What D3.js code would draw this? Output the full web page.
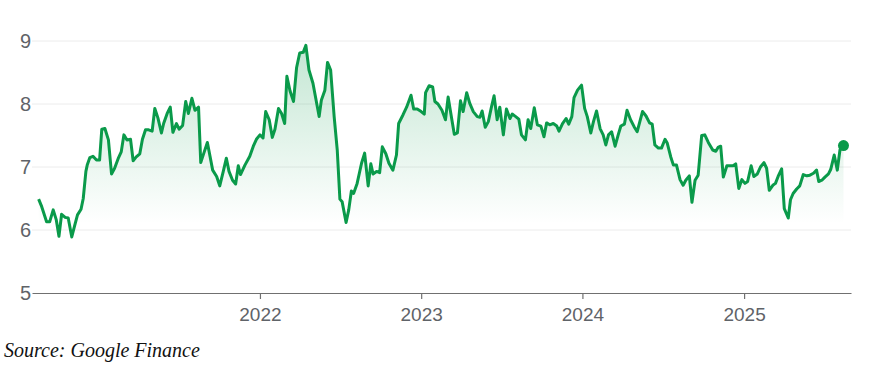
<!DOCTYPE html>
<html>
<head>
<meta charset="utf-8">
<script src="https://cdn.jsdelivr.net/npm/d3@7"></script>
<style>
  html, body { margin: 0; padding: 0; background: #fff; }
  svg { display: block; }
</style>
</head>
<body>
<svg id="chart" width="875" height="382"></svg>
<script>
// ---- Data (weekly closing prices) ----
const dates2020 = ["08-18","08-25","09-05","09-12","09-20","09-27","10-03","10-09","10-17","10-24","11-01","11-08","11-14","11-22","11-27","12-03","12-06","12-12","12-19","12-27"];
const prices2020 = [6.49,6.37,6.13,6.13,6.32,6.16,5.90,6.25,6.20,6.19,5.89,6.08,6.24,6.33,6.50,6.93,7.03,7.15,7.17,7.11];

const dates2021 = ["01-03","01-08","01-15","01-23","01-30","02-06","02-15","02-21","02-27","03-06","03-14","03-20","03-27","04-04","04-10","04-17","04-24","05-02","05-08","05-15","05-23","05-28","06-05","06-12","06-18","06-26","07-02","07-10","07-17","07-23","07-31","08-07","08-15","08-20","08-27","09-04","09-16","09-25","10-02","10-10","10-17","10-23","10-31","11-07","11-13","11-18","11-28","12-09","12-17","12-24"];
const prices2021 = [7.11,7.60,7.61,7.43,6.89,6.98,7.15,7.24,7.51,7.43,7.44,7.10,7.16,7.21,7.44,7.59,7.59,7.57,7.93,7.78,7.54,7.69,7.85,7.95,7.55,7.69,7.60,7.66,8.04,7.85,8.09,7.90,7.95,7.07,7.22,7.39,6.95,6.85,6.70,6.93,7.14,6.93,6.79,6.73,7.02,6.88,7.03,7.17,7.33,7.44];

const dates2022 = ["01-01","01-08","01-14","01-22","01-29","02-04","02-12","02-19","02-26","03-03","03-10","03-18","03-25","04-01","04-09","04-15","04-22","05-01","05-15","05-20","05-28","06-03","06-10","06-18","06-25","07-01","07-06","07-15","07-21","07-27","08-01","08-09","08-19","08-26","09-03","09-09","09-14","09-22","09-29","10-05","10-13","10-20","10-29","11-06","11-11","11-21","11-29","12-09","12-15","12-23"];
const prices2022 = [7.51,7.46,7.88,7.75,7.47,7.60,7.93,7.85,7.69,8.44,8.21,8.04,8.58,8.81,8.82,8.93,8.54,8.33,7.80,8.06,8.22,8.66,8.54,7.80,7.27,6.49,6.45,6.12,6.32,6.62,6.58,6.74,7.06,7.22,6.70,7.05,6.89,6.93,6.91,7.32,7.21,7.06,6.95,7.19,7.69,7.83,7.95,8.14,7.92,7.92];

const dates2023 = ["01-01","01-08","01-11","01-19","01-27","02-01","02-08","02-17","02-25","03-03","03-11","03-17","03-24","03-31","04-06","04-14","04-21","04-29","05-08","05-14","05-19","05-26","06-02","06-09","06-15","06-22","06-28","07-06","07-13","07-21","07-26","08-03","08-10","08-16","08-25","08-31","09-06","09-14","09-21","09-29","10-06","10-12","10-19","10-27","11-04","11-09","11-17","11-25","12-01","12-08","12-13","12-21","12-30"];
const prices2023 = [7.88,7.84,8.18,8.29,8.27,8.04,8.00,7.90,7.75,8.11,7.77,7.52,7.54,8.05,7.88,8.18,8.01,7.88,7.80,7.79,7.89,7.63,7.72,7.95,8.13,7.75,7.95,7.51,7.92,7.77,7.84,7.80,7.76,7.51,7.43,7.75,7.61,7.94,7.67,7.65,7.48,7.70,7.67,7.69,7.65,7.57,7.69,7.77,7.68,7.80,8.10,8.22,8.30];

const dates2024 = ["01-06","01-12","01-20","01-26","02-02","02-10","02-17","02-23","02-29","03-07","03-15","03-22","03-28","04-05","04-11","04-19","04-27","05-04","05-10","05-16","05-24","06-01","06-07","06-13","06-21","06-28","07-06","07-11","07-19","07-25","08-01","08-09","08-16","08-22","08-30","09-05","09-12","09-19","09-27","10-04","10-12","10-22","10-29","11-03","11-09","11-15","11-23","11-30","12-07","12-13","12-20","12-27"];
const prices2024 = [7.93,7.80,7.54,7.72,7.89,7.61,7.51,7.35,7.51,7.56,7.33,7.51,7.65,7.68,7.90,7.75,7.64,7.56,7.72,7.88,7.81,7.70,7.68,7.35,7.30,7.30,7.44,7.38,7.16,7.03,7.03,6.80,6.71,6.79,6.86,6.44,6.79,6.87,7.50,7.51,7.39,7.27,7.25,7.31,7.33,6.84,7.02,7.02,7.02,7.05,6.66,6.80];

const dates2025 = ["01-03","01-09","01-17","01-23","01-31","02-07","02-15","02-21","02-27","03-07","03-13","03-19","03-27","04-02","04-11","04-16","04-22","04-30","05-07","05-15","05-23","05-30","06-07","06-14","06-19","06-26","07-03","07-11","07-16","07-24","07-31","08-06","08-14"];
const prices2025 = [6.74,6.77,7.02,6.85,6.89,7.00,7.07,6.98,6.63,6.71,6.74,6.85,6.97,6.34,6.19,6.48,6.58,6.65,6.70,6.88,6.86,6.87,6.90,6.95,6.77,6.79,6.84,6.89,6.96,7.19,6.95,7.27,7.34];

const yTicks = [5, 6, 7, 8, 9];
const xTickYears = ["2022", "2023", "2024", "2025"];
const xDomain = ["2020-08-03", "2025-08-31"];
const sourceText = "Source: Google Finance";

(function () {
  // ---- Build rows ----
  const parse = d3.timeParse("%Y-%m-%d");
  const years = [
    ["2020", dates2020, prices2020],
    ["2021", dates2021, prices2021],
    ["2022", dates2022, prices2022],
    ["2023", dates2023, prices2023],
    ["2024", dates2024, prices2024],
    ["2025", dates2025, prices2025]
  ];
  const data = [];
  years.forEach(([yr, ds, ps]) => {
    ds.forEach((md, i) => data.push({ date: parse(yr + "-" + md), value: ps[i] }));
  });

  // ---- Layout ----
  const svg = d3.select("#chart");
  const plotLeft = 32, plotRight = 851, plotTop = 41, plotBottom = 293;
  const green = "#0a9a4a";

  const x = d3.scaleTime().domain(xDomain.map(parse)).range([plotLeft, plotRight]);
  const y = d3.scaleLinear().domain([5, 9]).range([plotBottom, plotTop]);

  // gradient
  const defs = svg.append("defs");
  const grad = defs.append("linearGradient")
    .attr("id", "fillGrad")
    .attr("gradientUnits", "userSpaceOnUse")
    .attr("x1", 0).attr("x2", 0)
    .attr("y1", y(9)).attr("y2", y(6.1));
  grad.append("stop").attr("offset", 0).attr("stop-color", green).attr("stop-opacity", 0.25);
  grad.append("stop").attr("offset", 1).attr("stop-color", green).attr("stop-opacity", 0);

  // gridlines
  svg.append("g")
    .selectAll("line")
    .data(yTicks.filter(t => t > 5))
    .join("line")
    .attr("x1", plotLeft).attr("x2", plotRight)
    .attr("y1", d => y(d)).attr("y2", d => y(d))
    .attr("stroke", "#ececec").attr("stroke-width", 1);

  // y labels
  svg.append("g")
    .selectAll("text")
    .data(yTicks)
    .join("text")
    .attr("x", 31)
    .attr("y", d => y(d))
    .attr("dy", "0.35em")
    .attr("text-anchor", "end")
    .attr("font-family", "'Liberation Sans', Arial, sans-serif")
    .attr("font-size", 20)
    .attr("fill", "#5f6368")
    .text(d => d);

  // area + line
  const area = d3.area()
    .x(d => x(d.date))
    .y0(y(5))
    .y1(d => y(d.value));
  svg.append("path")
    .datum(data)
    .attr("d", area)
    .attr("fill", "url(#fillGrad)");

  const line = d3.line()
    .x(d => x(d.date))
    .y(d => y(d.value));
  svg.append("path")
    .datum(data)
    .attr("d", line)
    .attr("fill", "none")
    .attr("stroke", green)
    .attr("stroke-width", 3)
    .attr("stroke-linejoin", "round");

  // end dot
  const last = data[data.length - 1];
  svg.append("circle")
    .attr("cx", x(last.date))
    .attr("cy", y(last.value))
    .attr("r", 5.5)
    .attr("fill", green);

  // x axis
  const xAxis = d3.axisBottom(x)
    .tickValues(xTickYears.map(t => parse(t + "-01-01")))
    .tickFormat(d3.timeFormat("%Y"))
    .tickSize(6)
    .tickSizeOuter(0);
  const gx = svg.append("g")
    .attr("transform", `translate(0,${plotBottom})`)
    .call(xAxis);
  gx.select(".domain").attr("stroke", "#707070").attr("stroke-width", 1.2);
  gx.selectAll(".tick line").attr("stroke", "#707070").attr("stroke-width", 1.2);
  gx.selectAll(".tick text")
    .attr("font-family", "'Liberation Sans', Arial, sans-serif")
    .attr("font-size", 19)
    .attr("fill", "#5f6368")
    .attr("dy", "0")
    .attr("y", 28);

  // source
  svg.append("text")
    .attr("x", 4)
    .attr("y", 357)
    .attr("font-family", "'Liberation Serif', 'Times New Roman', serif")
    .attr("font-style", "italic")
    .attr("font-size", 20)
    .attr("fill", "#111")
    .text(sourceText);
})();
</script>
</body>
</html>
